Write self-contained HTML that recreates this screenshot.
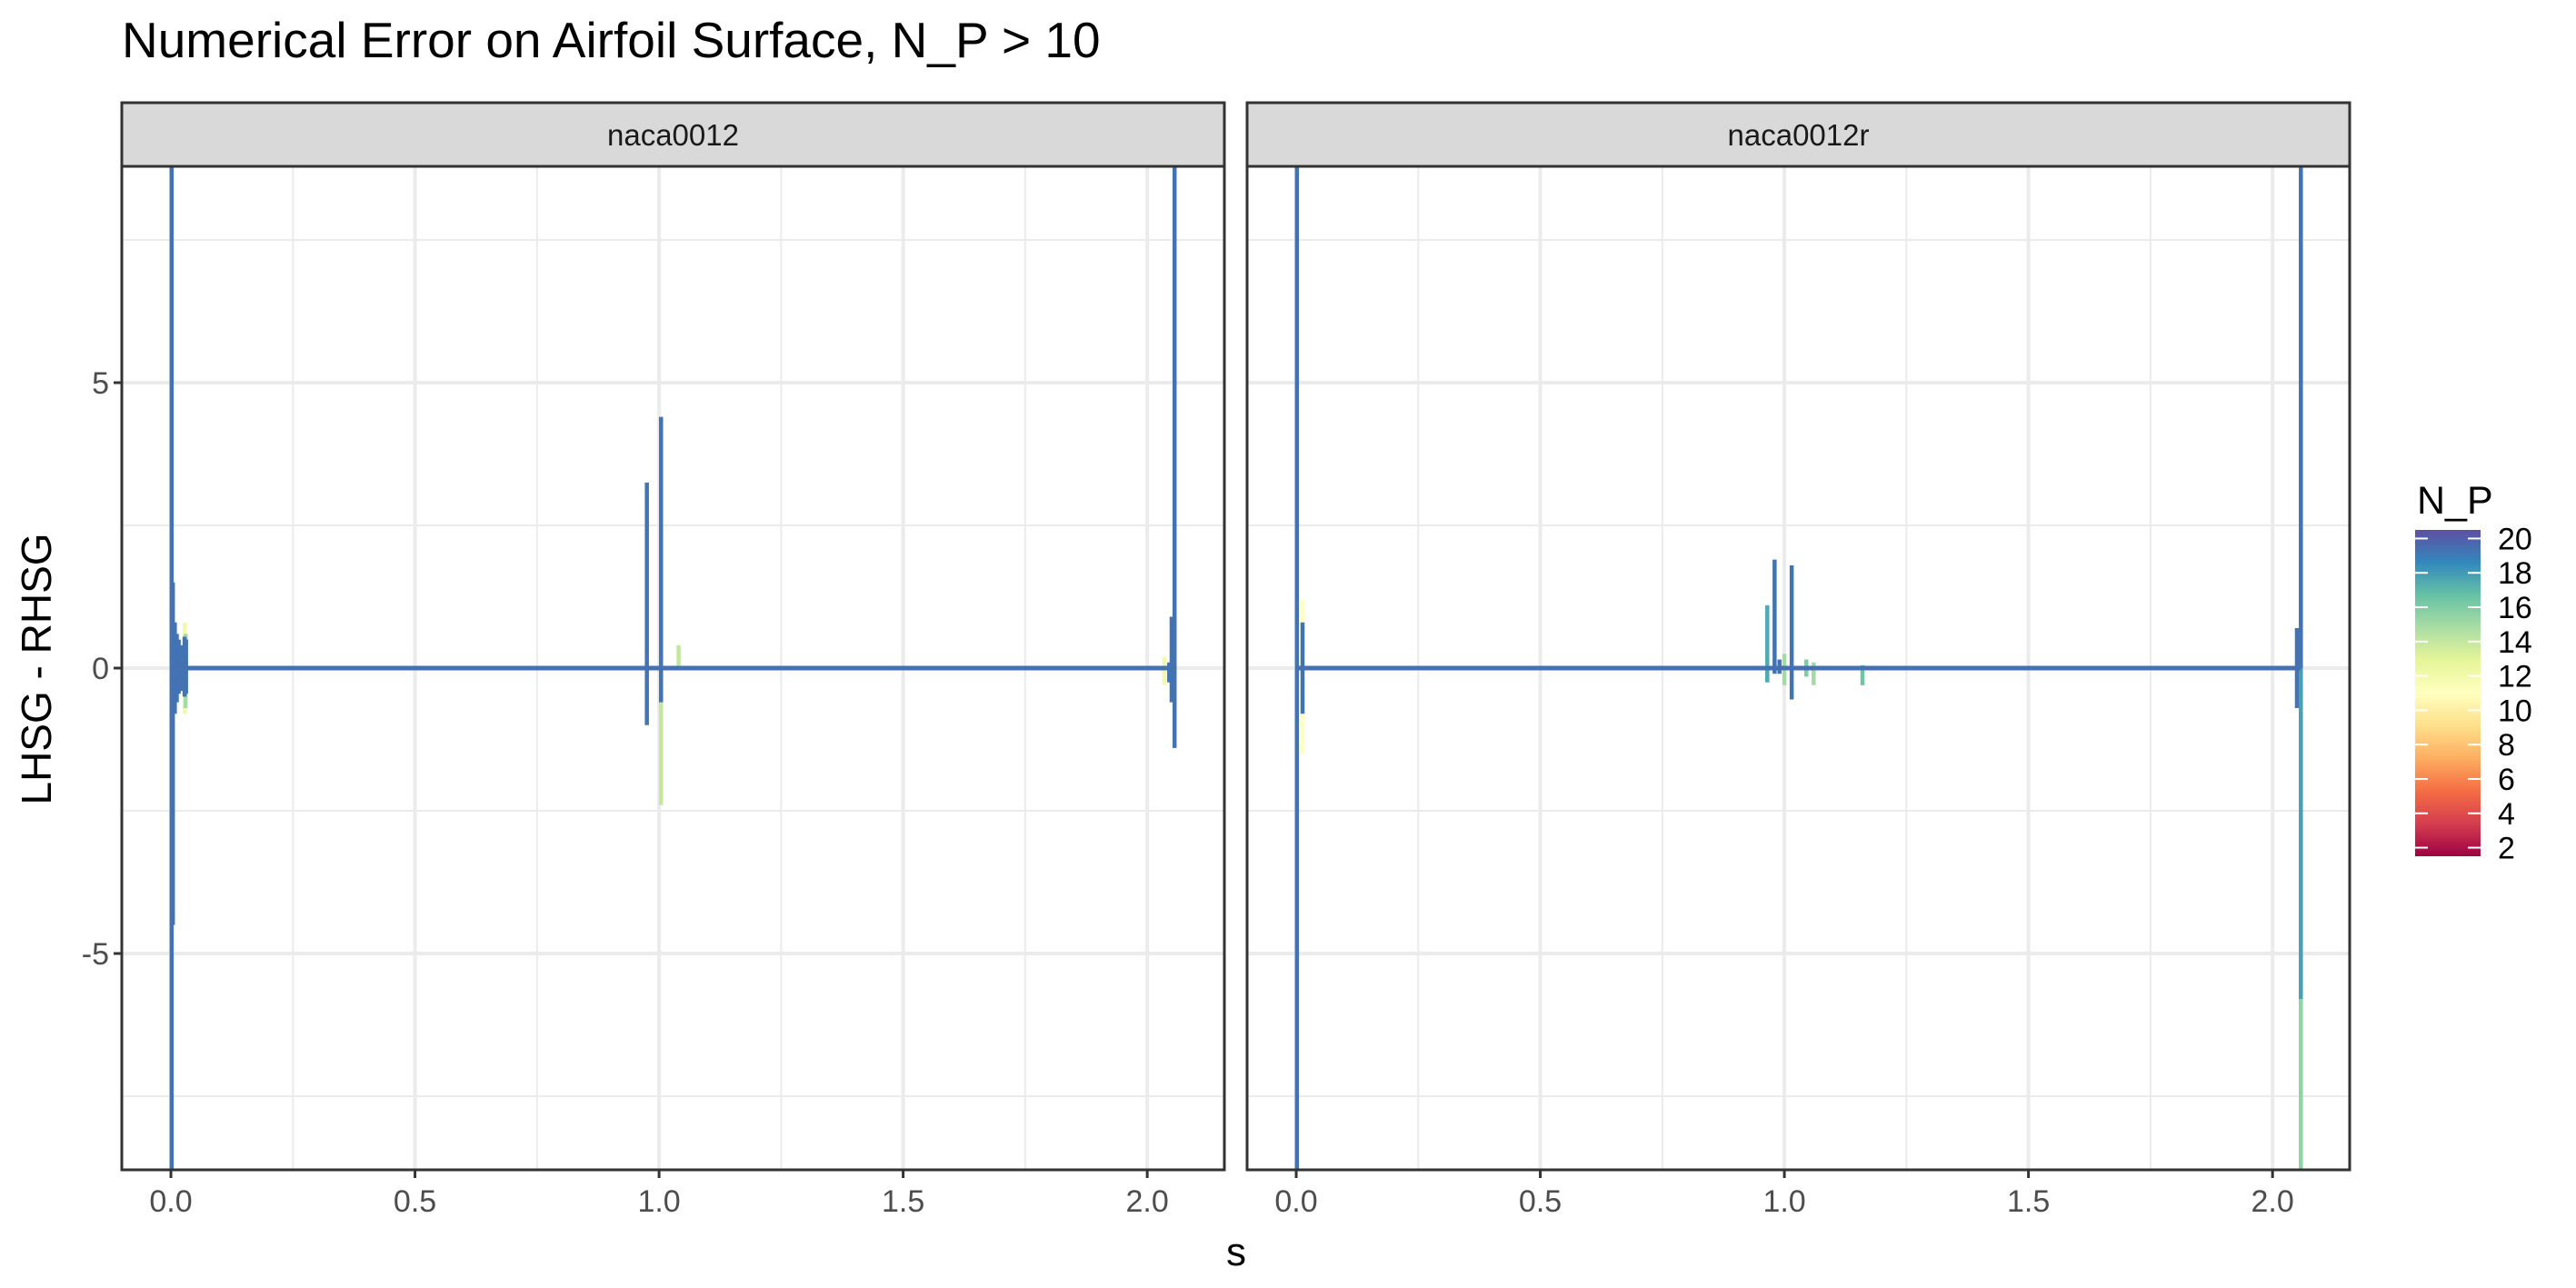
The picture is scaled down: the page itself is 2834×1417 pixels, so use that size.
<!DOCTYPE html>
<html><head><meta charset="utf-8"><style>
html,body{margin:0;padding:0;background:#fff;}
svg{display:block;font-family:"Liberation Sans",Arial,sans-serif;}
</style></head><body>
<svg id="chart" width="2834" height="1417" viewBox="0 0 2834 1417" xmlns="http://www.w3.org/2000/svg">
<rect width="2834" height="1417" fill="#fff"/>
<text x="134" y="63" font-size="55" fill="#000">Numerical Error on Airfoil Surface, N_P &gt; 10</text>
<text x="1360" y="1392" font-size="44" text-anchor="middle" fill="#000">s</text>
<text transform="translate(56,736) rotate(-90)" font-size="46" text-anchor="middle" fill="#000">LHSG - RHSG</text>
<g id="panels"></g>
<g id="legend"></g>
</svg>
<script>
// ---- data ----
const xTicks = [0, 0.5, 1.0, 1.5, 2.0];
const xTickLabels = ["0.0", "0.5", "1.0", "1.5", "2.0"];
const yTicks = [-5, 0, 5];
const yTickLabels = ["-5", "0", "5"];
const panelNames = ["naca0012", "naca0012r"];
const baselineStart = [0, 0];
const baselineEnd = [2.058, 2.058];
// spikes per panel: position s, low, high, N_P colour value
const p1S    = [0.028, 0.03, 0.004, 0.008, 0.012, 0.016, 0.02, 0.024, 0.028, 0.031, 0.0015, 0.975, 1.004, 1.004, 1.04, 2.035, 2.045, 2.05, 2.056, 2.055];
const p1Lo   = [-0.8, -0.7, -4.5, -0.8, -0.6, -0.45, -0.4, -0.35, -0.5, -0.45, -8.8, -1.0, -2.4, -0.6, 0, -0.3, -0.25, -0.6, -1.4, -0.3];
const p1Hi   = [0.8, 0.6, 1.5, 0.8, 0.6, 0.5, 0.4, 0.3, 0.55, 0.5, 8.8, 3.25, 0.2, 4.4, 0.4, 0.2, 0.1, 0.9, 8.8, 0.3];
const p1NP   = [12, 15, 19.3, 19.3, 19.3, 19.3, 19.3, 19.3, 19.3, 19.3, 19.3, 19.3, 14, 19.3, 14, 12, 19.3, 19.3, 19.3, 19.3];
const p2S    = [0.012, 0.013, 0.0015, 0.965, 0.98, 0.99, 1.0, 1.015, 1.045, 1.06, 1.16, 2.05, 2.058, 2.058, 2.058];
const p2Lo   = [-1.5, -0.8, -8.8, -0.25, -0.1, -0.1, -0.3, -0.55, -0.15, -0.3, -0.3, -0.7, -5.8, -8.8, 0];
const p2Hi   = [1.2, 0.8, 8.8, 1.1, 1.9, 0.15, 0.25, 1.8, 0.15, 0.1, 0.05, 0.7, 0, -5.8, 8.8];
const p2NP   = [11, 19.3, 19.3, 17.5, 19.3, 19.3, 15, 19.3, 16, 15, 16.5, 19.3, 17.8, 15.5, 19.3];
const legendTicks = [2, 4, 6, 8, 10, 12, 14, 16, 18, 20];
// ---- layout ----
const NS = "http://www.w3.org/2000/svg";
const panelLeft = [134, 1372], panelW = 1213;
const plotTop = 183, plotBot = 1287, stripTop = 113;
const xMin = -0.1006, xMax = 2.158, yMin = -8.79, yMax = 8.79;
const spectral = ["#9E0142","#D53E4F","#F46D43","#FDAE61","#FEE08B","#FFFFBF","#E6F598","#ABDDA4","#66C2A5","#3288BD","#5E4FA2"];
function npColor(v){ const t=(v-1.5)/19*10; const i=Math.max(0,Math.min(9,Math.floor(t))); const f=Math.max(0,Math.min(1,t-i));
  const a=spectral[i],b=spectral[i+1]; const c=k=>Math.round(parseInt(a.substr(k,2),16)*(1-f)+parseInt(b.substr(k,2),16)*f);
  return `rgb(${c(1)},${c(3)},${c(5)})`; }
const mk=(tag,attrs,parent)=>{const e=document.createElementNS(NS,tag);for(const k in attrs)e.setAttribute(k,attrs[k]);parent.appendChild(e);return e;};
const root=document.getElementById('panels');
const spikeSets=[[p1S,p1Lo,p1Hi,p1NP],[p2S,p2Lo,p2Hi,p2NP]];
panelNames.forEach((name,pi)=>{
  const L=panelLeft[pi];
  const xs=v=>L+(v-xMin)/(xMax-xMin)*panelW;
  const ys=v=>plotBot-(v-yMin)/(yMax-yMin)*(plotBot-plotTop);
  const g=mk('g',{},root);
  
  
  mk('rect',{x:L,y:plotTop,width:panelW,height:plotBot-plotTop,fill:'#fff'},g);
  [-7.5,-2.5,2.5,7.5].forEach(v=>mk('line',{x1:L,x2:L+panelW,y1:ys(v),y2:ys(v),stroke:'#ebebeb','stroke-width':2},g));
  [0.25,0.75,1.25,1.75].forEach(v=>mk('line',{x1:xs(v),x2:xs(v),y1:plotTop,y2:plotBot,stroke:'#ebebeb','stroke-width':2},g));
  yTicks.forEach(v=>mk('line',{x1:L,x2:L+panelW,y1:ys(v),y2:ys(v),stroke:'#ebebeb','stroke-width':4},g));
  xTicks.forEach(v=>mk('line',{x1:xs(v),x2:xs(v),y1:plotTop,y2:plotBot,stroke:'#ebebeb','stroke-width':4},g));
  const [S,Lo,Hi,NP]=spikeSets[pi];
  const clip=mk('clipPath',{id:'clip'+pi},g); mk('rect',{x:L,y:plotTop,width:panelW,height:plotBot-plotTop},clip);
  const d=mk('g',{'clip-path':`url(#clip${pi})`},g);
  S.forEach((s,i)=>{
    const ln=mk('line',{x1:xs(s),x2:xs(s),y1:ys(Lo[i]),y2:ys(Hi[i]),stroke:npColor(NP[i]),'stroke-width':4.5},d);
    
    
  });
  const bl=mk('line',{x1:xs(baselineStart[pi]),x2:xs(baselineEnd[pi]),y1:ys(0),y2:ys(0),stroke:'#4571b1','stroke-width':5},d);
  
  
  mk('rect',{x:L,y:plotTop,width:panelW,height:plotBot-plotTop,fill:'none',stroke:'#333','stroke-width':3},g);
  mk('rect',{x:L,y:stripTop,width:panelW,height:plotTop-stripTop,fill:'#d9d9d9',stroke:'#333','stroke-width':3},g);
  const st=mk('text',{x:L+panelW/2,y:(stripTop+plotTop)/2+12,'font-size':33,'text-anchor':'middle',fill:'#1a1a1a'},g);
  st.textContent=name;
  
  
  xTicks.forEach((v,i)=>{
    mk('line',{x1:xs(v),x2:xs(v),y1:plotBot,y2:plotBot+9,stroke:'#333','stroke-width':3},g);
    const t=mk('text',{x:xs(v),y:plotBot+46,'font-size':34,'text-anchor':'middle',fill:'#4d4d4d'},g);
    t.textContent=xTickLabels[i];
    
    
  });
  if(pi===0){
    yTicks.forEach((v,i)=>{
      mk('line',{x1:L-9,x2:L,y1:ys(v),y2:ys(v),stroke:'#333','stroke-width':3},g);
      const t=mk('text',{x:L-14,y:ys(v)+12,'font-size':34,'text-anchor':'end',fill:'#4d4d4d'},g);
      t.textContent=yTickLabels[i];
      
      
    });
  }
});
const lg=document.getElementById('legend');
const lt=mk('text',{x:2659,y:565,'font-size':43,fill:'#000'},lg); lt.textContent='N_P';


const defs=mk('defs',{},lg);
const grad=mk('linearGradient',{id:'spec',x1:0,y1:1,x2:0,y2:0},defs);
spectral.forEach((c,i)=>mk('stop',{offset:i/10,'stop-color':c},grad));
const barTop=583,barBot=942,barX=2657,barW=72;
const ly=v=>barBot-(v-1.5)/19*(barBot-barTop);
const cb=mk('rect',{x:barX,y:barTop,width:barW,height:barBot-barTop,fill:'url(#spec)'},lg);


legendTicks.forEach(v=>{
  mk('line',{x1:barX,x2:barX+14,y1:ly(v),y2:ly(v),stroke:'#fff','stroke-width':2},lg);
  mk('line',{x1:barX+barW-14,x2:barX+barW,y1:ly(v),y2:ly(v),stroke:'#fff','stroke-width':2},lg);
  const t=mk('text',{x:2748,y:ly(v)+12,'font-size':34,fill:'#000'},lg); t.textContent=v;
  
  
});
</script>
</body></html>
